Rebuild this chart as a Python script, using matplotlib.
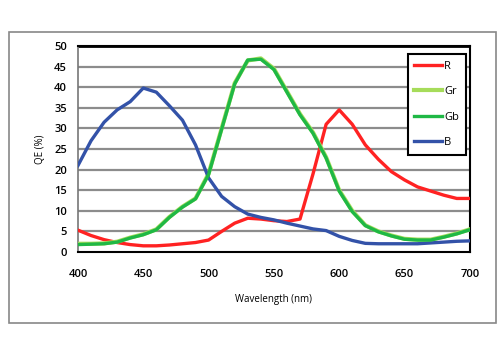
import matplotlib
matplotlib.use("Agg")
import matplotlib.pyplot as plt
from matplotlib.patches import Rectangle

wavelength = list(range(400, 701, 10))
R = [5.3, 4.0, 3.0, 2.3, 1.8, 1.5, 1.5, 1.7, 2.0, 2.3, 2.9, 5.0, 7.0, 8.2, 8.0, 7.6, 7.4, 8.0, 19.0, 31.0,
     34.5, 31.0, 26.0, 22.5, 19.5, 17.5, 15.8, 14.8, 13.8, 13.0, 13.0]
Gr = [2.0, 2.0, 2.1, 2.5, 3.5, 4.3, 5.5, 8.5, 11.0, 13.0, 19.0, 30.0, 41.0, 46.5, 47.0, 44.5, 39.0, 33.5, 29.0, 23.0,
      15.0, 10.0, 6.5, 5.0, 4.0, 3.2, 3.0, 3.0, 3.7, 4.5, 5.5]
Gb = [1.8, 1.9, 2.0, 2.4, 3.4, 4.2, 5.4, 8.4, 10.9, 12.9, 18.8, 29.8, 40.8, 46.6, 46.8, 44.3, 38.8, 33.3, 28.8, 22.8,
      14.8, 9.8, 6.4, 4.9, 3.9, 3.1, 2.9, 2.9, 3.6, 4.4, 5.4]
B = [21.0, 27.0, 31.5, 34.5, 36.5, 39.8, 38.8, 35.5, 32.0, 26.0, 18.0, 13.5, 11.0, 9.2, 8.4, 7.8, 7.0, 6.3, 5.6, 5.2,
     3.8, 2.8, 2.1, 2.0, 2.0, 2.0, 2.0, 2.2, 2.4, 2.6, 2.7]

x_ticks = [400, 450, 500, 550, 600, 650, 700]
y_ticks = [0, 5, 10, 15, 20, 25, 30, 35, 40, 45, 50]

plt.rcParams['font.family'] = ['Open Sans', 'DejaVu Sans']

fig = plt.figure(figsize=(5.03, 3.41), dpi=100)
fig.patches.append(Rectangle((0.018, 0.053), 0.968, 0.853, transform=fig.transFigure,
                             fill=False, edgecolor='#888888', linewidth=1.2))

ax = fig.add_axes([0.155, 0.261, 0.779, 0.604])
for y in y_ticks[1:-1]:
    ax.axhline(y, color='#8c8c8c', linewidth=1.6, zorder=1)
ax.axhline(50, color='black', linewidth=2, zorder=1)

lw = 2.4
ax.plot(wavelength, R, color='#ff2222', linewidth=lw, label='R', zorder=3)
ax.plot(wavelength, Gr, color='#a6dc5a', linewidth=lw + 0.6, label='Gr', zorder=3)
ax.plot(wavelength, Gb, color='#1fb845', linewidth=lw, label='Gb', zorder=4)
ax.plot(wavelength, B, color='#3352a8', linewidth=lw, label='B', zorder=3)

ax.set_xlim(400, 700)
ax.set_ylim(0, 50)
ax.set_xticks(x_ticks)
ax.set_yticks(y_ticks)
ax.tick_params(axis='both', length=0, labelsize=8)
for lbl in ax.get_xticklabels() + ax.get_yticklabels():
    lbl.set_fontweight('semibold')
ax.tick_params(axis='x', pad=12)
ax.tick_params(axis='y', pad=8)
for s in ['top', 'right', 'bottom']:
    ax.spines[s].set_color('black')
    ax.spines[s].set_linewidth(1.5)
ax.spines['left'].set_color('#777777')
ax.spines['left'].set_linewidth(1.2)

ax.set_xlabel('Wavelength (nm)', fontsize=7, labelpad=10)
ax.set_ylabel('QE (%)', fontsize=7, labelpad=6)

leg = ax.legend(loc='upper right', bbox_to_anchor=(0.99, 0.96), fontsize=8, frameon=True,
                fancybox=False, handlelength=2.5, handletextpad=0.2, labelspacing=1.3,
                borderpad=0.6, borderaxespad=0)
leg.get_frame().set_edgecolor('black')
leg.get_frame().set_linewidth(1.5)
leg.get_frame().set_alpha(1)

fig.savefig('out.png', dpi=100)
